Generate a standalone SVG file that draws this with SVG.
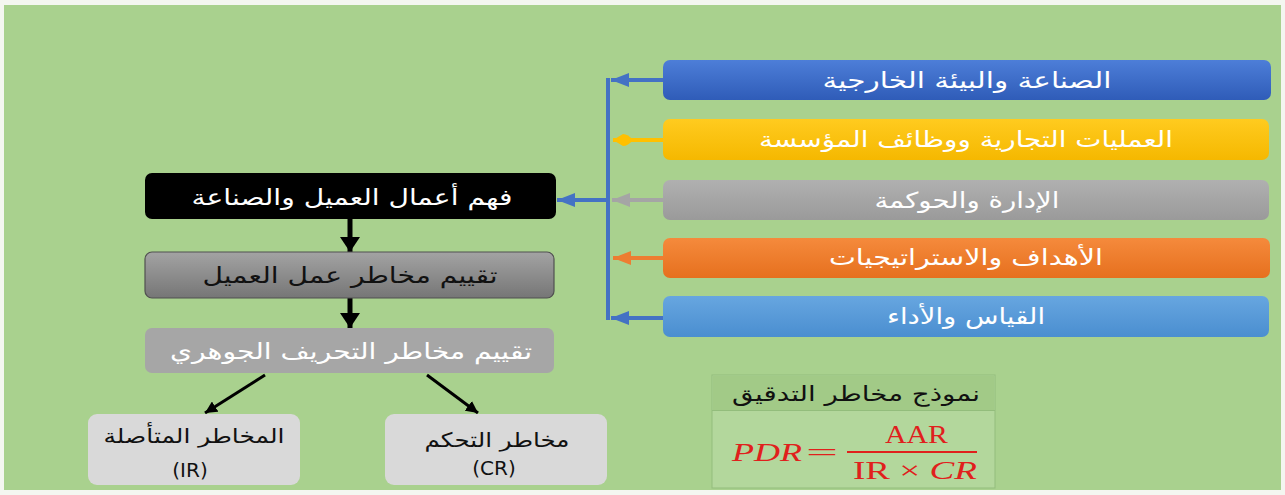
<svg xmlns="http://www.w3.org/2000/svg" width="1285" height="495" viewBox="0 0 1285 495">
<style>
.ar{font-family:"DejaVu Sans","Noto Sans",sans-serif;font-size:22px;text-anchor:middle;dominant-baseline:central}
.w{fill:#ffffff}
.k{fill:#111111}
.f{font-family:"Liberation Serif","DejaVu Serif",serif;fill:#e0201c;font-size:25px}
</style>
<defs>
<linearGradient id="gBlue" x1="0" y1="0" x2="0" y2="1"><stop offset="0" stop-color="#4d7ed8"/><stop offset="1" stop-color="#2f5cb8"/></linearGradient>
<linearGradient id="gYel" x1="0" y1="0" x2="0" y2="1"><stop offset="0" stop-color="#ffcb1f"/><stop offset="1" stop-color="#f5b800"/></linearGradient>
<linearGradient id="gGray" x1="0" y1="0" x2="0" y2="1"><stop offset="0" stop-color="#b0b0b0"/><stop offset="1" stop-color="#9a9a9a"/></linearGradient>
<linearGradient id="gOr" x1="0" y1="0" x2="0" y2="1"><stop offset="0" stop-color="#f58a3c"/><stop offset="1" stop-color="#e6701e"/></linearGradient>
<linearGradient id="gLb" x1="0" y1="0" x2="0" y2="1"><stop offset="0" stop-color="#67a6e0"/><stop offset="1" stop-color="#4a8ed0"/></linearGradient>
<linearGradient id="gDk" x1="0" y1="0" x2="0" y2="1"><stop offset="0" stop-color="#a3a3a3"/><stop offset="1" stop-color="#767676"/></linearGradient>
<marker id="aBlue" viewBox="0 0 18 14" refX="18" refY="7" markerWidth="18" markerHeight="14" markerUnits="userSpaceOnUse" orient="auto"><path d="M0,0L18,7L0,14z" fill="#4472c4"/></marker>
<marker id="aYel" viewBox="0 0 20 12" refX="20" refY="6" markerWidth="20" markerHeight="12" markerUnits="userSpaceOnUse" orient="auto"><path d="M0,6Q5,0 10,0L20,6L10,12Q5,12 0,6z" fill="#ffc000"/></marker>
<marker id="aGray" viewBox="0 0 18 14" refX="18" refY="7" markerWidth="18" markerHeight="14" markerUnits="userSpaceOnUse" orient="auto"><path d="M0,0L18,7L0,14z" fill="#a5a5a5"/></marker>
<marker id="aOr" viewBox="0 0 18 14" refX="18" refY="7" markerWidth="18" markerHeight="14" markerUnits="userSpaceOnUse" orient="auto"><path d="M0,0L18,7L0,14z" fill="#ed7d31"/></marker>
<marker id="aBlk" viewBox="0 0 15 20" refX="15" refY="10" markerWidth="15" markerHeight="20" markerUnits="userSpaceOnUse" orient="auto"><path d="M0,0L15,10L0,20z" fill="#000"/></marker>
<marker id="aBlk2" viewBox="0 0 12 12" refX="12" refY="6" markerWidth="12" markerHeight="12" markerUnits="userSpaceOnUse" orient="auto"><path d="M0,0L12,6L0,12z" fill="#000"/></marker>
</defs>
<rect width="1285" height="495" fill="#f4f6f0"/>
<rect x="4" y="5" width="1277" height="485" fill="#a9d18e"/>

<g id="connectors" fill="none">
<line x1="608" y1="78" x2="608" y2="320" stroke="#4472c4" stroke-width="4"/>
<line x1="663" y1="80" x2="611" y2="80" stroke="#4472c4" stroke-width="4" marker-end="url(#aBlue)"/>
<line x1="663" y1="140" x2="613" y2="140" stroke="#ffc000" stroke-width="4" marker-end="url(#aYel)"/>
<line x1="663" y1="200" x2="612" y2="200" stroke="#a5a5a5" stroke-width="4" marker-end="url(#aGray)"/>
<line x1="663" y1="258" x2="613" y2="258" stroke="#ed7d31" stroke-width="4" marker-end="url(#aOr)"/>
<line x1="663" y1="318" x2="611" y2="318" stroke="#4472c4" stroke-width="4" marker-end="url(#aBlue)"/>
<line x1="608" y1="200" x2="557" y2="200" stroke="#4472c4" stroke-width="4" marker-end="url(#aBlue)"/>
<line x1="350" y1="219" x2="350" y2="252" stroke="#000" stroke-width="5" marker-end="url(#aBlk)"/>
<line x1="350" y1="298" x2="350" y2="328" stroke="#000" stroke-width="5" marker-end="url(#aBlk)"/>
<line x1="265" y1="375" x2="205" y2="413" stroke="#000" stroke-width="3" marker-end="url(#aBlk2)"/>
<line x1="427" y1="375" x2="478" y2="413" stroke="#000" stroke-width="3" marker-end="url(#aBlk2)"/>
</g>

<g id="n-industry"><rect x="663" y="60" width="608" height="40" rx="7" fill="url(#gBlue)"/><text class="ar w" x="967" y="80" textLength="289" lengthAdjust="spacingAndGlyphs">الصناعة والبيئة الخارجية</text></g>
<g id="n-operations"><rect x="663" y="119" width="606" height="41" rx="7" fill="url(#gYel)"/><text class="ar w" x="966" y="139" textLength="414" lengthAdjust="spacingAndGlyphs">العمليات التجارية ووظائف المؤسسة</text></g>
<g id="n-governance"><rect x="663" y="180" width="606" height="40" rx="7" fill="url(#gGray)"/><text class="ar w" x="967" y="200" textLength="185" lengthAdjust="spacingAndGlyphs">الإدارة والحوكمة</text></g>
<g id="n-objectives"><rect x="663" y="238" width="607" height="40" rx="7" fill="url(#gOr)"/><text class="ar w" x="966" y="257" textLength="274" lengthAdjust="spacingAndGlyphs">الأهداف والاستراتيجيات</text></g>
<g id="n-measure"><rect x="663" y="296" width="606" height="41" rx="7" fill="url(#gLb)"/><text class="ar w" x="966" y="316" textLength="158" lengthAdjust="spacingAndGlyphs">القياس والأداء</text></g>

<g id="n-understand"><rect x="145" y="173" width="411" height="46" rx="7" fill="#000"/><text class="ar w" x="352" y="197" textLength="321" lengthAdjust="spacingAndGlyphs">فهم أعمال العميل والصناعة</text></g>
<g id="n-bizrisk"><rect x="145" y="252" width="409" height="46" rx="7" fill="url(#gDk)" stroke="#505050" stroke-width="1.2"/><text class="ar k" x="350" y="275" textLength="295" lengthAdjust="spacingAndGlyphs">تقييم مخاطر عمل العميل</text></g>
<g id="n-material"><rect x="145" y="328" width="409" height="45" rx="7" fill="#a6a6a6"/><text class="ar w" x="351" y="351" textLength="362" lengthAdjust="spacingAndGlyphs">تقييم مخاطر التحريف الجوهري</text></g>

<g id="n-ir"><rect x="88" y="414" width="212" height="71" rx="9" fill="#d9d9d9"/><text class="ar k" x="194" y="436" textLength="181" lengthAdjust="spacingAndGlyphs" style="font-size:20px">المخاطر المتأصلة</text><text class="ar k" x="190" y="470" style="font-size:20px">(IR)</text></g>
<g id="n-cr"><rect x="385" y="414" width="222" height="71" rx="9" fill="#d9d9d9"/><text class="ar k" x="497" y="440" textLength="145" lengthAdjust="spacingAndGlyphs" style="font-size:20px">مخاطر التحكم</text><text class="ar k" x="494" y="468" style="font-size:20px">(CR)</text></g>

<g id="n-formula">
<rect x="712" y="375" width="283" height="113" fill="#b3d79c" stroke="#93bd7c" stroke-width="1"/>
<rect x="712.5" y="375.5" width="282" height="35" fill="#a2ca87"/>
<line x1="712" y1="410.5" x2="995" y2="410.5" stroke="#93bd7c" stroke-width="1"/>
<text class="ar k" x="856" y="394" textLength="248" lengthAdjust="spacingAndGlyphs" style="font-size:21px">نموذج مخاطر التدقيق</text>
<text class="f" x="732" y="461" font-style="italic" textLength="70" lengthAdjust="spacingAndGlyphs">PDR</text>
<text class="f" x="806" y="461" textLength="32" lengthAdjust="spacingAndGlyphs">=</text>
<text class="f" x="885" y="443" textLength="63" lengthAdjust="spacingAndGlyphs">AAR</text>
<line x1="847" y1="452" x2="977" y2="452" stroke="#e0201c" stroke-width="2"/>
<text class="f" x="853" y="479" textLength="124" lengthAdjust="spacingAndGlyphs">IR × <tspan font-style="italic">CR</tspan></text>
</g>
</svg>
